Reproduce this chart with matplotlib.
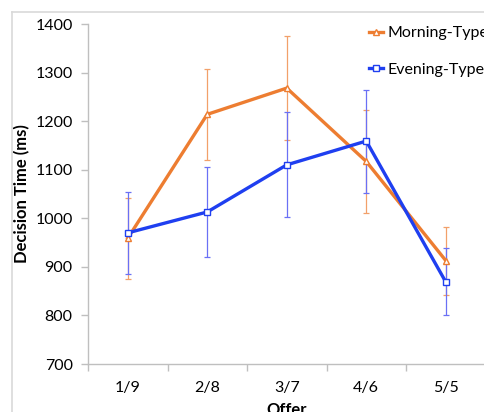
import matplotlib.pyplot as plt
from matplotlib.lines import Line2D

offers = ['1/9', '2/8', '3/7', '4/6', '5/5']
morning = [959, 1214, 1268, 1117, 913]
morning_err = [83, 93, 107, 106, 70]
evening = [970, 1013, 1110, 1159, 869]
evening_err = [84, 93, 108, 106, 69]

plt.rcParams['font.family'] = ['Lato', 'DejaVu Sans']

fig = plt.figure(figsize=(4.84, 4.12), dpi=100)
ax = fig.add_axes([88 / 484, 1 - 364 / 412, 397.5 / 484, 340 / 412])

# light outer frame
fig.add_artist(Line2D([12 / 484, 1], [1 - 12 / 412] * 2, color='#d9d9d9', lw=1.2))
fig.add_artist(Line2D([12 / 484] * 2, [0, 1 - 12 / 412], color='#d9d9d9', lw=1.2))

x = list(range(len(offers)))
orange = '#ed7d31'
blue = '#1f3ff0'

ax.errorbar(x, morning, yerr=morning_err, fmt='none', ecolor='#f2a06a', elinewidth=0.9,
            capsize=2, capthick=0.9, zorder=1)
ax.errorbar(x, evening, yerr=evening_err, fmt='none', ecolor='#6a70f5', elinewidth=0.9,
            capsize=2, capthick=0.9, zorder=1)
ax.plot(x, morning, color=orange, lw=2.4, marker='^', ms=4, mfc='white', mec=orange,
        mew=1, label='Morning-Type', zorder=3)
ax.plot(x, evening, color=blue, lw=2.4, marker='s', ms=4, mfc='white', mec=blue,
        mew=1, label='Evening-Type', zorder=4)

ax.set_xlim(-0.5, 4.5)
ax.set_ylim(700, 1400)
ax.set_yticks(range(700, 1401, 100))
ax.set_xticks(x)
ax.set_xticklabels(offers)
ax.set_xticks([i - 0.5 for i in range(6)], minor=True)
ax.tick_params(axis='x', which='major', length=0, pad=12, labelsize=11.5)
ax.tick_params(axis='x', which='minor', length=5, color='#bfbfbf', width=1)
ax.tick_params(axis='y', length=5, color='#bfbfbf', width=1, labelsize=11.5, pad=6)

for s in ['top', 'right']:
    ax.spines[s].set_visible(False)
for s in ['left', 'bottom']:
    ax.spines[s].set_color('#bfbfbf')
    ax.spines[s].set_linewidth(1)

ax.set_ylabel('Decision Time (ms)', fontsize=12, fontweight='bold', labelpad=4)
ax.set_xlabel('Offer', fontsize=12, fontweight='bold', labelpad=5)

leg = ax.legend(loc='upper left', bbox_to_anchor=(0.69, 1.013), frameon=False,
                fontsize=11.5, handlelength=0.9, handletextpad=0.3, labelspacing=1.4,
                borderaxespad=0)

fig.savefig('out.png', dpi=100)
